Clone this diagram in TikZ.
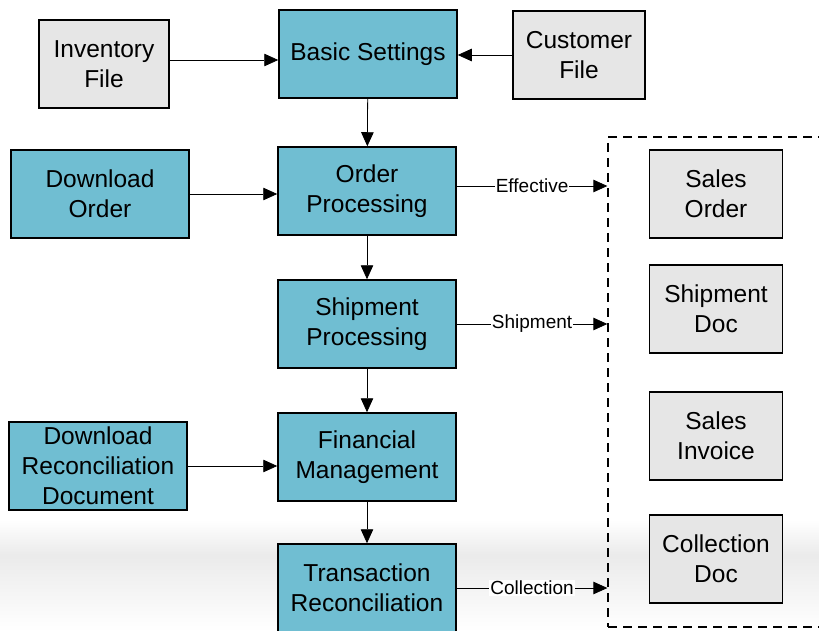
\documentclass[tikz,border=0pt]{standalone}
\usepackage{fontspec}
\setmainfont{Liberation Sans}
\usetikzlibrary{arrows.meta}
\definecolor{boxblue}{HTML}{70BED2}
\definecolor{boxgray}{HTML}{E6E6E6}
\tikzset{
    stage/.style={draw, line width=1.5pt, fill=boxblue, minimum width=178pt, minimum height=88pt,
        inner sep=0pt, align=center, font=\fontsize{24.5}{30}\selectfont},
    source/.style={stage, fill=boxgray, minimum width=130pt},
    record/.style={source, minimum width=133pt},
    group/.style={draw, line width=1.3pt, dash pattern=on 9pt off 6pt, minimum width=232pt, minimum height=490pt},
    link/.style={line width=0.8pt, -{Triangle[length=14pt,width=12.5pt]}},
    tag/.style={fill=white, inner sep=1pt, font=\fontsize{19}{22}\selectfont},
}
\begin{document}
\begin{tikzpicture}[x=1pt,y=-1pt]
    \useasboundingbox (0,0) rectangle (819,631);
    \clip (0,0) rectangle (819,631);
    % background band
    \shade[top color=white, bottom color=black!8] (0,520) rectangle (819,555);
    \shade[top color=black!8, bottom color=white] (0,555) rectangle (819,631);
    % left column
    \node (inventory) [source] at (104,64) {Inventory\\File};
    \node (dlorder) [stage] at (100,194) {Download\\Order};
    \node (dlrecon) [stage] at (98,466) {Download\\Reconciliation\\Document};
    % main flow
    \node (basic) [stage] at (368,54) {Basic Settings};
    \node (order) [stage] at (367,191) {Order\\Processing};
    \node (shipment) [stage] at (367,324) {Shipment\\Processing};
    \node (finance) [stage] at (367,457) {Financial\\Management};
    \node (recon) [stage] at (367,588) {Transaction\\Reconciliation};
    \node (customer) [source, minimum width=132pt] at (579,55) {Customer\\File};
    % documents
    \node (docs) [group] at (724,382) {};
    \node (salesorder) [record] at (716,194) {Sales\\Order};
    \node (shipdoc) [record] at (716,309) {Shipment\\Doc};
    \node (invoice) [record] at (716,436) {Sales\\Invoice};
    \node (collect) [record] at (716,559) {Collection\\Doc};
    % connectors
    \draw[link] ([yshift=4pt]inventory.east) -- ([yshift=4pt]inventory.east -| basic.west);
    \draw[link] (customer.west) -- (customer.west -| basic.east);
    \draw[link] (dlorder.east) -- (dlorder.east -| order.west);
    \draw[link] (dlrecon.east) -- (dlrecon.east -| finance.west);
    \draw[link] (basic) -- (order);
    \draw[link] (order) -- (shipment);
    \draw[link] (shipment) -- (finance);
    \draw[link] (finance) -- (recon);
    \draw[link] ([yshift=5pt]order.east) -- ([yshift=5pt]order.east -| docs.west) node[tag, midway] {Effective};
    \draw[link] (shipment.east) -- (shipment.east -| docs.west) node[tag, midway] {Shipment};
    \draw[link] (recon.east) -- (recon.east -| docs.west) node[tag, midway] {Collection};
\end{tikzpicture}
\end{document}
